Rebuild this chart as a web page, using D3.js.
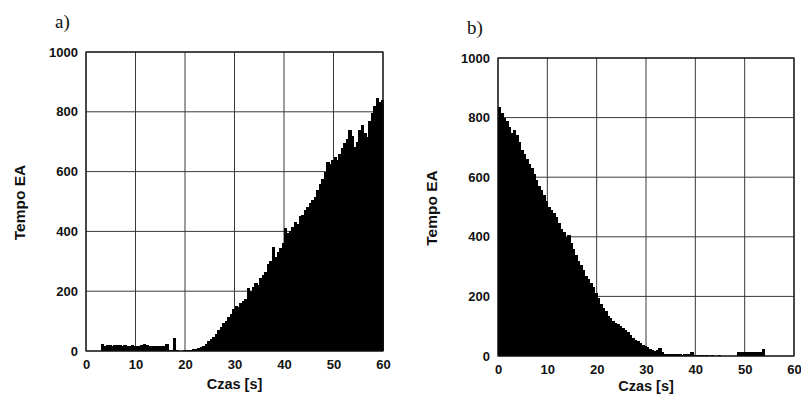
<!DOCTYPE html>
<html>
<head>
<meta charset="utf-8">
<script src="https://cdn.jsdelivr.net/npm/d3@7"></script>
<style>
  body { margin: 0; background: #fff; }
  text { font-family: "Liberation Sans", Arial, sans-serif; font-weight: bold; fill: #111; }
  .panel-label { font-family: "Liberation Serif", "Times New Roman", serif; font-weight: normal; }
</style>
</head>
<body>
<div id="chart"></div>
<script>
// bin width of the histograms, seconds
let binWidth = 0.5;
let xTicks = [0, 10, 20, 30, 40, 50, 60];
let yTicks = [0, 200, 400, 600, 800, 1000];

// a) rate of AE events, 0.5 s bins from 0 to 60 s
let tempoA = [
  0, 0, 0, 0, 0, 0, 24,
  18, 19, 20, 18, 19, 20, 19, 18, 19, 17, 18, 19, 18, 17, 18, 20, 22, 19, 18, 17, 18, 17, 18, 17, 16,
  25, 3, 2, 43,
  2, 1, 1, 2, 2, 3, 4, 6,
  8, 10, 14, 18,
  25, 32, 40, 48,
  58, 70, 80, 92,
  100, 115, 125, 140,
  152, 148, 160, 168,
  175, 210, 200, 215,
  228, 222, 245, 255,
  265, 290, 300, 349,
  315, 330, 345, 360,
  410, 395, 400, 415,
  432, 425, 450, 455,
  470, 480, 495, 505,
  515, 540, 560, 575,
  600, 632, 625, 640,
  650, 640, 660, 680,
  695, 710, 739, 720,
  683, 700, 740, 756,
  729, 716, 770, 796,
  820, 846, 834, 840
];

// b) rate of AE events, 0.5 s bins from 0 to 60 s
let tempoB = [
  837, 815, 800, 790,
  770, 748, 760, 740,
  718, 690, 678, 660,
  645, 630, 610, 590,
  570, 557, 540, 520,
  501, 490, 480, 465,
  445, 425, 415, 400,
  405, 380, 360, 340,
  320, 305, 290, 270,
  258, 245, 230, 211,
  195, 175, 160, 150,
  135, 128, 118, 110,
  108, 100, 95, 88,
  80, 72, 62, 55,
  50, 45, 38, 33,
  30, 24, 20, 18,
  20, 27, 12, 8,
  7, 6, 8, 6,
  7, 6, 5, 7,
  6, 8, 14, 4,
  3, 2, 2, 3,
  2, 1, 2, 1,
  1, 2, 1, 1,
  1, 0, 1, 0,
  0, 12, 12, 13,
  12, 12, 12, 13,
  12, 12, 12, 25,
  0, 0, 0, 0,
  0, 0, 0, 0, 0, 0, 0, 0
];

let svg = d3.select("#chart").append("svg")
  .attr("width", 801)
  .attr("height", 396)
  .style("background-color", "#fff");

function drawPanel(values, box, label, titleOffset) {
  let xScale = d3.scaleLinear().domain([0, 60]).range([box.left, box.right]);
  let yScale = d3.scaleLinear().domain([0, 1000]).range([box.bottom, box.top]);
  let g = svg.append("g");

  // grid
  g.selectAll(".vgrid").data(xTicks).enter().append("line")
    .attr("x1", d => xScale(d)).attr("x2", d => xScale(d))
    .attr("y1", box.top).attr("y2", box.bottom)
    .attr("stroke", "#3a3a3a").attr("stroke-width", 1);
  g.selectAll(".hgrid").data(yTicks).enter().append("line")
    .attr("x1", box.left).attr("x2", box.right)
    .attr("y1", d => yScale(d)).attr("y2", d => yScale(d))
    .attr("stroke", "#3a3a3a").attr("stroke-width", 1);

  // histogram bars
  g.selectAll(".bar").data(values).enter().append("rect")
    .attr("x", (d, i) => xScale(i * binWidth))
    .attr("width", xScale(binWidth) - xScale(0) + 1)
    .attr("y", d => yScale(d))
    .attr("height", d => yScale(0) - yScale(d))
    .attr("fill", "#000")
    .attr("shape-rendering", "crispEdges");

  // frame
  g.append("rect")
    .attr("x", box.left).attr("y", box.top)
    .attr("width", box.right - box.left).attr("height", box.bottom - box.top)
    .attr("fill", "none").attr("stroke", "#111").attr("stroke-width", 1.2);

  let yAxis = d3.axisLeft(yScale).tickValues(yTicks).tickFormat(d3.format("d")).tickSize(0).tickPadding(8);
  let yAxisGroup = g.append("g").attr("transform", "translate(" + box.left + ",0)").call(yAxis);
  yAxisGroup.select(".domain").remove();
  yAxisGroup.selectAll("text").style("font-size", "13px").style("font-family", null);

  let xAxis = d3.axisBottom(xScale).tickValues(xTicks).tickFormat(d3.format("d")).tickSize(0).tickPadding(9);
  let xAxisGroup = g.append("g").attr("transform", "translate(0," + box.bottom + ")").call(xAxis);
  xAxisGroup.select(".domain").remove();
  xAxisGroup.selectAll("text").style("font-size", "13px").style("font-family", null);

  g.append("text")
    .attr("x", (box.left + box.right) / 2)
    .attr("y", box.bottom + titleOffset)
    .attr("text-anchor", "middle")
    .style("font-size", "14.5px")
    .text("Czas [s]");

  g.append("text")
    .attr("transform", "translate(" + (box.left - 61) + "," + ((box.top + box.bottom) / 2 + 1) + ") rotate(-90)")
    .attr("text-anchor", "middle")
    .style("font-size", "15.5px")
    .text("Tempo EA");

  g.append("text")
    .attr("class", "panel-label")
    .attr("x", box.left - 31)
    .attr("y", box.top - 24)
    .style("font-size", "19px")
    .text(label);
}

drawPanel(tempoA, {left: 86, right: 383, top: 52, bottom: 351}, "a)", 38);
drawPanel(tempoB, {left: 498, right: 794, top: 58, bottom: 356}, "b)", 35);
</script>
</body>
</html>
